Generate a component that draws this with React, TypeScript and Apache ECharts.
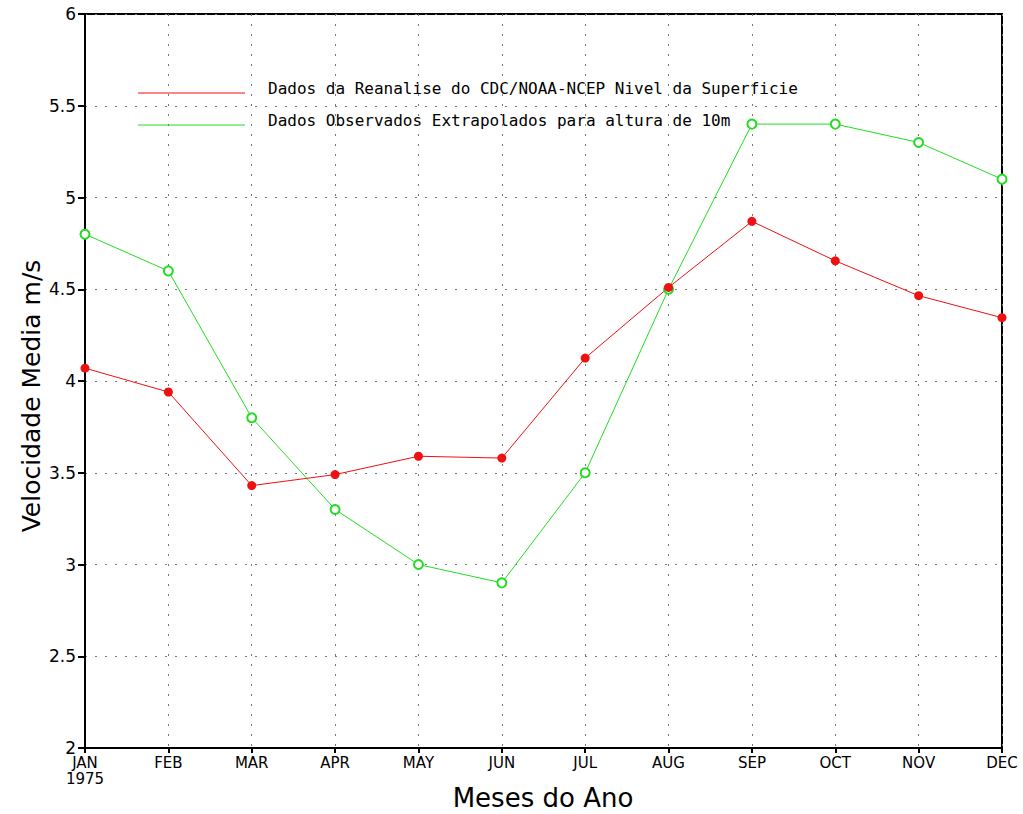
import React, { useEffect, useRef } from "react";
import * as echarts from "echarts";

const months = ["JAN", "FEB", "MAR", "APR", "MAY", "JUN", "JUL", "AUG", "SEP", "OCT", "NOV", "DEC"];
const yearLabel = "1975";
const reanaliseName = "Dados da Reanalise do CDC/NOAA-NCEP Nivel da Superficie";
const observadosName = "Dados Observados Extrapolados para altura de 10m";
const reanalise = [4.07, 3.94, 3.43, 3.49, 3.59, 3.58, 4.125, 4.51, 4.87, 4.655, 4.465, 4.345];
const observados = [4.8, 4.6, 3.8, 3.3, 3.0, 2.9, 3.5, 4.5, 5.4, 5.4, 5.3, 5.1];
const yTicks = [2, 2.5, 3, 3.5, 4, 4.5, 5, 5.5, 6];
const xName = "Meses do Ano";
const yName = "Velocidade Media m/s";

export default function App() {
  const ref = useRef<HTMLDivElement>(null);
  useEffect(() => {
    if (!ref.current) return;
    const chart = echarts.init(ref.current, null, { renderer: "svg" });
    const font = "DejaVu Sans";
    chart.setOption({
      animation: false,
      backgroundColor: "#ffffff",
      grid: {
        left: 85,
        right: 21,
        top: 14,
        bottom: 66,
        outerBoundsMode: "none",
        containLabel: false,
        show: true,
        borderColor: "#000",
        borderWidth: 2,
        backgroundColor: "transparent",
      },
      xAxis: {
        type: "category",
        data: months,
        boundaryGap: false,
        axisLine: { lineStyle: { color: "#000", width: 2 } },
        axisTick: { show: true, length: 5, inside: false, lineStyle: { color: "#000", width: 2 } },
        axisLabel: {
          fontFamily: font,
          fontSize: 15,
          color: "#000",
          margin: 7,
          lineHeight: 16,
          formatter: (v: string, i: number) => (i === 0 ? v + "\n" + yearLabel : v),
        },
        splitLine: { show: true, lineStyle: { color: "#777", type: [2, 8], width: 1 } },
      },
      yAxis: {
        type: "value",
        min: yTicks[0],
        max: yTicks[yTicks.length - 1],
        interval: 0.5,
        axisLine: { show: true, lineStyle: { color: "#000", width: 2 } },
        axisTick: { show: true, length: 7, lineStyle: { color: "#000", width: 2 } },
        axisLabel: { fontFamily: font, fontSize: 17, color: "#000", margin: 9 },
        splitLine: { show: true, lineStyle: { color: "#777", type: [2, 8], width: 1 } },
      },
      series: [
        {
          name: observadosName,
          type: "line",
          data: observados,
          symbol: "emptyCircle",
          symbolSize: 9,
          lineStyle: { color: "#22dd22", width: 1 },
          itemStyle: { color: "#22dd22", borderWidth: 1 },
        },
        {
          name: reanaliseName,
          type: "line",
          data: reanalise,
          symbol: "circle",
          symbolSize: 9,
          lineStyle: { color: "#ee1111", width: 1 },
          itemStyle: { color: "#ee1111" },
        },
      ],
      graphic: [
        { type: "line", shape: { x1: 138, y1: 93, x2: 245, y2: 93 }, style: { stroke: "#ee1111", lineWidth: 1 } },
        {
          type: "text",
          x: 268,
          y: 88,
          style: { text: reanaliseName, font: "16px 'DejaVu Sans Mono'", fill: "#000", verticalAlign: "middle" },
        },
        { type: "line", shape: { x1: 138, y1: 125, x2: 245, y2: 125 }, style: { stroke: "#22dd22", lineWidth: 1 } },
        {
          type: "text",
          x: 268,
          y: 120,
          style: { text: observadosName, font: "16px 'DejaVu Sans Mono'", fill: "#000", verticalAlign: "middle" },
        },
        {
          type: "text",
          x: 543,
          y: 798,
          style: {
            text: xName,
            font: "26px 'DejaVu Sans'",
            fill: "#000",
            align: "center",
            verticalAlign: "middle",
          },
        },
        {
          type: "text",
          x: 31,
          y: 396,
          rotation: Math.PI / 2,
          style: {
            text: yName,
            font: "25px 'DejaVu Sans'",
            fill: "#000",
            align: "center",
            verticalAlign: "middle",
          },
        },
      ],
    });
    return () => chart.dispose();
  }, []);
  return <div ref={ref} style={{ width: 1023, height: 814, position: "absolute", left: 0, top: 0 }} />;
}
